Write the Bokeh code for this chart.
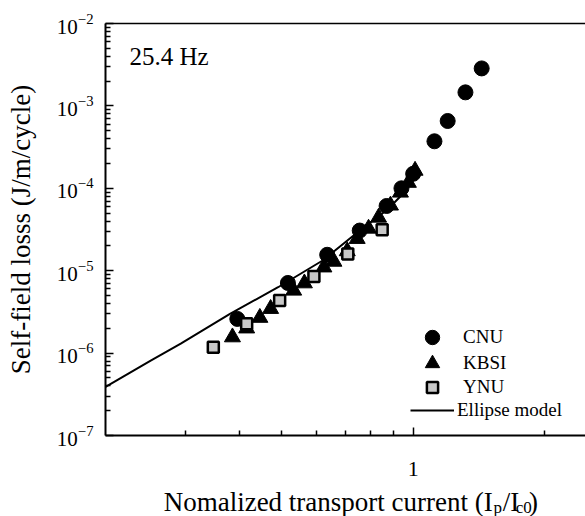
from bokeh.plotting import figure
from bokeh.layouts import column
from bokeh.models import (LogAxis, FixedTicker, BasicTickFormatter, Label,
                          Legend, LegendItem, Range1d)
from bokeh.embed import file_html
from bokeh.resources import INLINE

# ---------------- data ----------------
cnu_x = [0.395, 0.516, 0.635, 0.754, 0.869, 0.94, 1.0, 1.119, 1.20, 1.318, 1.436]
cnu_y = [2.6e-6, 7.1e-6, 1.56e-5, 3.07e-5, 6.1e-5, 1.0e-4, 1.5e-4, 3.72e-4, 6.56e-4, 1.46e-3, 2.85e-3]

kbsi_x = [0.385, 0.415, 0.445, 0.471, 0.532, 0.563, 0.624, 0.658, 0.706, 0.744, 0.79, 0.833, 0.887, 0.935, 0.975, 1.01]
kbsi_y = [1.56e-6, 2.0e-6, 2.69e-6, 3.45e-6, 5.75e-6, 7.05e-6, 1.10e-5, 1.29e-5, 1.73e-5, 2.44e-5, 3.25e-5, 4.42e-5, 6.2e-5, 8.9e-5, 1.17e-4, 1.64e-4]

ynu_x = [0.348, 0.415, 0.494, 0.592, 0.708, 0.849]
ynu_y = [1.18e-6, 2.27e-6, 4.36e-6, 8.5e-6, 1.60e-5, 3.13e-5]

ellipse_x = [0.197, 0.25, 0.293, 0.38, 0.49, 0.62, 0.73, 0.80, 0.86, 0.90, 0.95, 1.0]
ellipse_y = [3.9e-7, 8.1e-7, 1.3e-6, 3.0e-6, 6.3e-6, 1.33e-5, 2.67e-5, 3.9e-5, 5.2e-5, 6.5e-5, 8.7e-5, 1.25e-4]

x_major_ticks = [1]
x_minor_ticks = [0.3, 0.4, 0.5, 0.6, 0.7, 0.8, 0.9, 2]
y_major_ticks = [1e-7, 1e-6, 1e-5, 1e-4, 1e-3, 1e-2]
y_minor_ticks = [k * 10.0 ** e for e in range(-7, -2) for k in range(2, 10)]

series_labels = ["CNU", "KBSI", "YNU", "Ellipse model"]
freq_text = "25.4 Hz"
y_title = "Self-field losss (J/m/cycle)"

FONT = "Liberation Serif"

# main plot: frame spans x 105..585, y 23..435 of the picture
p = figure(width=585, height=483, x_axis_type="log", y_axis_type="log",
           x_range=Range1d(0.1969, 2.485), y_range=Range1d(1e-7, 1e-2),
           output_backend="svg", toolbar_location=None,
           min_border_left=105, min_border_right=0, min_border_top=23,
           min_border_bottom=48)
p.outline_line_color = None
p.xgrid.visible = False
p.ygrid.visible = False
p.background_fill_color = "white"
p.border_fill_color = "white"

xa = p.xaxis[0]
xa.ticker = FixedTicker(ticks=x_major_ticks, minor_ticks=x_minor_ticks)
xa.formatter = BasicTickFormatter()
ya = p.yaxis[0]
ya.ticker = FixedTicker(ticks=y_major_ticks, minor_ticks=y_minor_ticks)

for ax in (xa, ya):
    ax.axis_line_color = "black"
    ax.axis_line_width = 2
    ax.major_tick_in = 8
    ax.major_tick_out = 0
    ax.minor_tick_in = 5
    ax.minor_tick_out = 0
    ax.major_tick_line_width = 1.5
    ax.minor_tick_line_width = 1.5
    ax.major_tick_line_color = "black"
    ax.minor_tick_line_color = "black"
    ax.major_label_text_font = FONT
    ax.major_label_text_color = "black"
ya.major_label_text_font_size = "21px"
ya.major_label_standoff = 12
ya.axis_label = y_title
ya.axis_label_text_font = FONT
ya.axis_label_text_font_size = "27px"
ya.axis_label_text_font_style = "normal"
ya.axis_label_text_color = "black"
ya.axis_label_standoff = 18
xa.major_label_text_font_size = "22px"
xa.major_label_standoff = 26

top = LogAxis(ticker=FixedTicker(ticks=[]), major_tick_in=0, major_tick_out=0,
              minor_tick_in=0, minor_tick_out=0, axis_line_width=1.5,
              axis_line_color="black", major_label_text_font_size="0px")
p.add_layout(top, "above")

# ---------------- glyphs ----------------
ell = p.line(ellipse_x, ellipse_y, line_color="black", line_width=2)
cnu = p.scatter(cnu_x, cnu_y, marker="circle", size=15, fill_color="black", line_color="black")
kbsi = p.scatter(kbsi_x, kbsi_y, marker="triangle", size=16, fill_color="black", line_color="black")
ynu = p.scatter(ynu_x, ynu_y, marker="square", size=11, fill_color="#c8c8c8",
                line_color="black", line_width=2.5)

# ---------------- legend (one row per legend, to control marker size) --------
def add_leg(renderer, label, yc, gh, standoff):
    leg = Legend(items=[LegendItem(label=label, renderers=[renderer])],
                 location=(305, int(round(435 - yc - gh / 2))),
                 glyph_width=44, glyph_height=gh, label_height=gh,
                 padding=0, margin=0, spacing=0, label_standoff=standoff,
                 border_line_color=None, background_fill_alpha=0,
                 label_text_font=FONT, label_text_font_size="19px",
                 label_text_color="black")
    p.add_layout(leg)

add_leg(cnu, series_labels[0], 337, 36, 9)
add_leg(kbsi, series_labels[1], 363, 36, 9)
add_leg(ynu, series_labels[2], 387, 28, 9)
add_leg(ell, series_labels[3], 411, 20, 3)

p.add_layout(Label(x=24, y=379, x_units="screen", y_units="screen", text=freq_text,
                   text_font=FONT, text_font_size="25px", text_color="black",
                   text_baseline="alphabetic"))

# ---------------- x-axis title strip (with subscripts) ----------------
q = figure(width=585, height=33, x_range=Range1d(0, 585), y_range=Range1d(0, 33),
           output_backend="svg", toolbar_location=None,
           x_axis_location=None, y_axis_location=None, min_border=0,
           min_border_left=0, min_border_right=0, min_border_top=0, min_border_bottom=0)
q.outline_line_color = None
q.xgrid.visible = False
q.ygrid.visible = False
q.background_fill_color = "white"
q.border_fill_color = "white"

base_y = 15
sub_y = 9
q.add_layout(Label(x=472, y=base_y, text="Nomalized transport current (I", text_align="right",
                   text_baseline="alphabetic", text_font=FONT, text_font_size="27px",
                   text_color="black"))
q.add_layout(Label(x=473, y=sub_y, text="p", text_baseline="alphabetic",
                   text_font=FONT, text_font_size="17px", text_color="black"))
q.add_layout(Label(x=484, y=base_y, text="/I", text_baseline="alphabetic",
                   text_font=FONT, text_font_size="27px", text_color="black"))
q.add_layout(Label(x=500, y=sub_y, text="c0", text_baseline="alphabetic",
                   text_font=FONT, text_font_size="17px", text_color="black"))
q.add_layout(Label(x=516, y=base_y, text=")", text_baseline="alphabetic",
                   text_font=FONT, text_font_size="27px", text_color="black"))

layout = column(p, q, spacing=0)
open("out.html", "w").write(file_html(layout, INLINE))
